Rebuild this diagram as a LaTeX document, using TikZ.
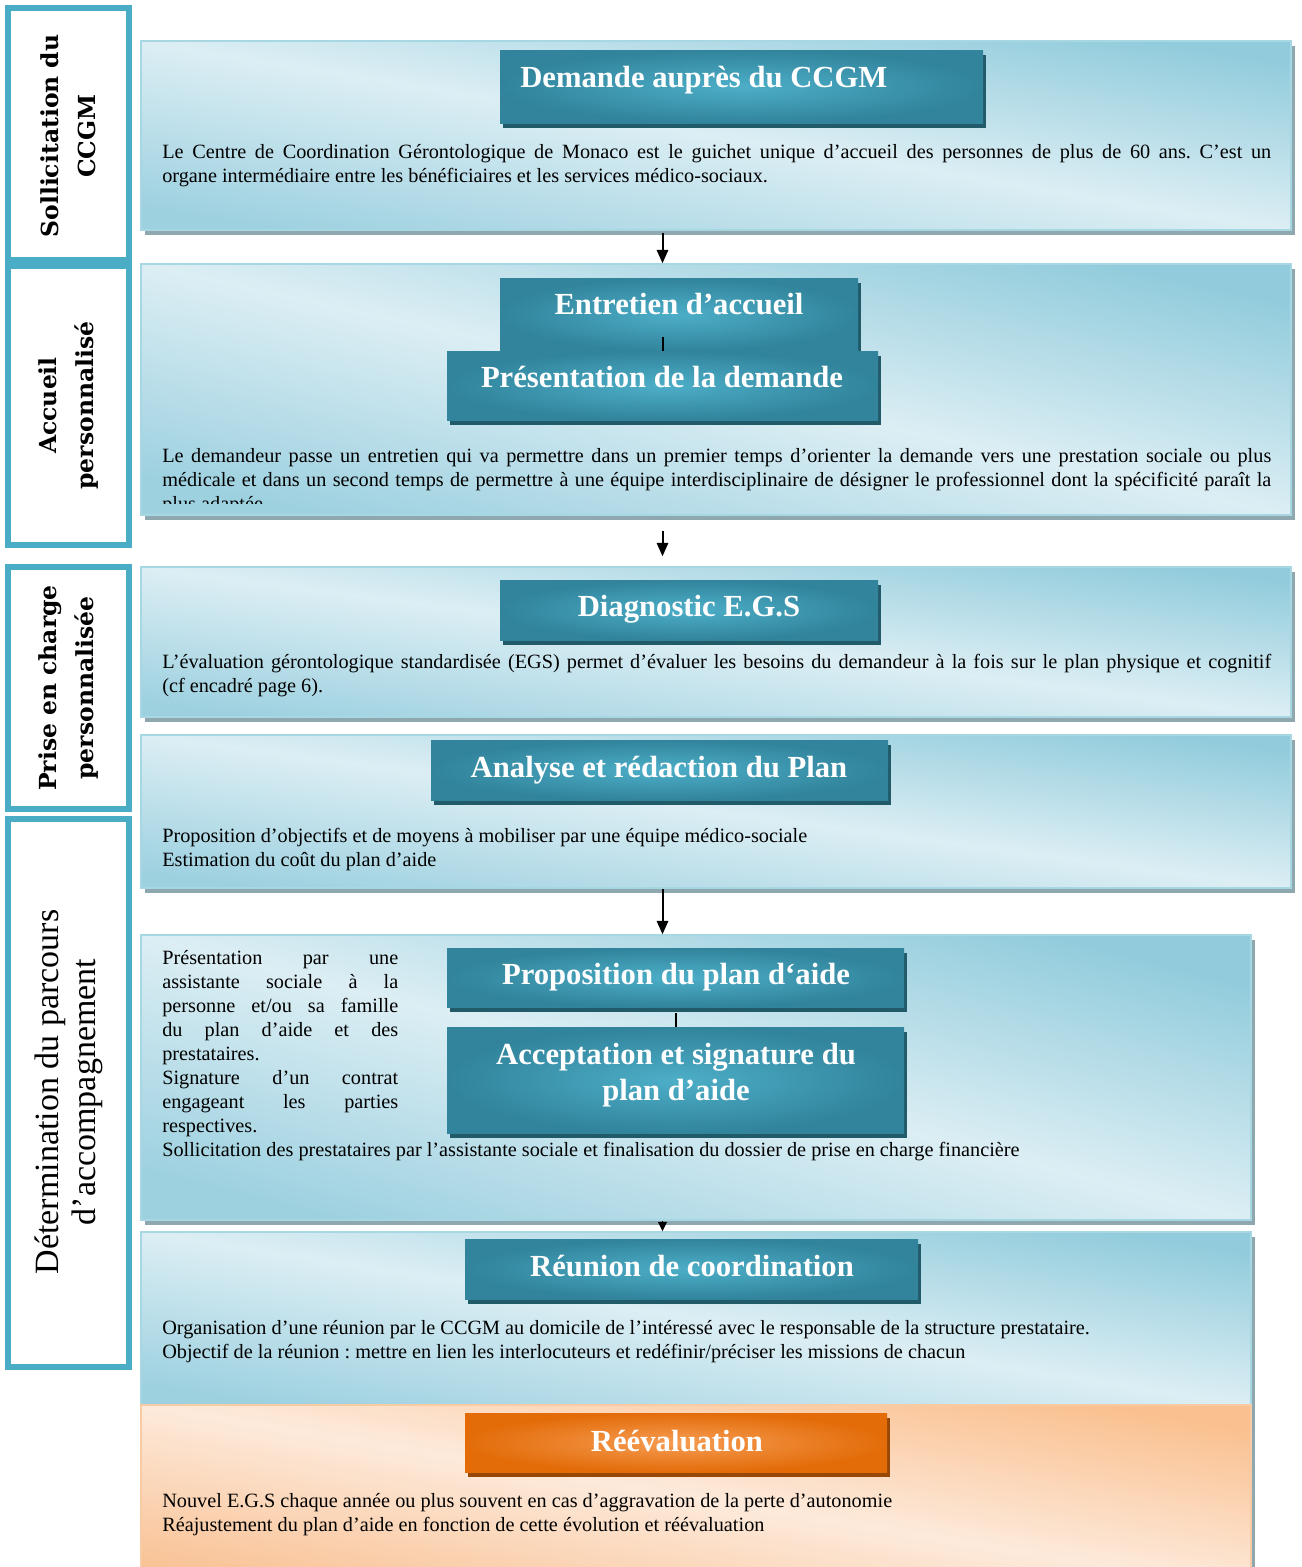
\documentclass[tikz,border=0pt]{standalone}
\usepackage{fontspec}
\setmainfont{Liberation Serif}
\newfontfamily\sidefont{DejaVu Serif}
\frenchspacing
\usetikzlibrary{arrows.meta,shadows,calc}
\definecolor{sideblue}{HTML}{4BACC6}
\definecolor{plight}{HTML}{DCEEF4}
\definecolor{pdark}{HTML}{92CCDC}
\definecolor{pdark2}{HTML}{9ED1E0}
\definecolor{pedge}{HTML}{A8D7E4}
\definecolor{pshadow}{HTML}{8FA8B0}
\definecolor{tdark}{HTML}{31849B}
\definecolor{tlight}{HTML}{4DAEC8}
\definecolor{tshadow}{HTML}{215A68}
\definecolor{olight}{HTML}{FDEADB}
\definecolor{odark}{HTML}{FAC08F}
\definecolor{odark2}{HTML}{F9C295}
\definecolor{oedge}{HTML}{F9CBA5}
\definecolor{otdark}{HTML}{E36C09}
\definecolor{otlight}{HTML}{F69C52}
\definecolor{otshadow}{HTML}{984806}
\newcommand\mkbox[6]{\node[#1,minimum width={(#5-#3)*0.75pt},minimum height={(#6-#4)*0.75pt}] (#2) at ({(#3+#5)/2},{(#4+#6)/2}) {};}
\newcommand\jl[2]{\hbox to #1{#2}}
\newcommand\nl[1]{\hbox{#1}}
\begin{document}
\begin{tikzpicture}[x=0.75pt,y=-0.75pt,
  sidebox/.style={rectangle,inner sep=0,draw=sideblue,line width=4.5pt,fill=white},
  sidelab/.style={rotate=90,align=center,inner sep=0,font=\sidefont\bfseries\fontsize{17.6}{27.75}\selectfont},
  sidelabr/.style={rotate=90,align=center,inner sep=0,font=\fontsize{25.5}{27.75}\selectfont},
  panel/.style={rectangle,inner sep=0,draw=pedge,line width=1.1pt,
    drop shadow={shadow xshift=3pt,shadow yshift=-3.75pt,fill=pshadow,opacity=1},
    top color=pdark,bottom color=pdark2,middle color=plight},
  opanel/.style={rectangle,inner sep=0,draw=oedge,line width=1.1pt,
    drop shadow={shadow xshift=3pt,shadow yshift=-3.75pt,fill=pshadow,opacity=1},
    top color=odark,bottom color=odark2,middle color=olight},
  tbox/.style={rectangle,inner sep=0,inner color=tlight,outer color=tdark,
    drop shadow={shadow xshift=2.6pt,shadow yshift=-4pt,fill=tshadow,opacity=1}},
  obox/.style={rectangle,inner sep=0,inner color=otlight,outer color=otdark,
    drop shadow={shadow xshift=2.6pt,shadow yshift=-4pt,fill=otshadow,opacity=1}},
  ttext/.style={inner sep=0,anchor=base,text=white,font=\bfseries\fontsize{23}{28}\selectfont},
  body/.style={inner sep=0,anchor=base west,font=\fontsize{15.2}{18}\selectfont},
  arr/.style={line width=1.5pt,-{Triangle[length=10pt,width=8.5pt]}},
  arrs/.style={line width=1.2pt,-{Triangle[length=7pt,width=6.5pt]}},
  link/.style={line width=1.5pt}]
\useasboundingbox (0,0) rectangle (1302,1567);
\clip (0,0) rectangle (1302,1567);
% side boxes
\mkbox{sidebox}{sa}{8}{8}{129}{260}
\mkbox{sidebox}{sb}{8}{266}{129}{545}
\mkbox{sidebox}{sc}{8}{567}{129}{809}
\mkbox{sidebox}{sd}{8}{819}{129}{1367}
\node[sidelab] (sal) at ($(sa.center)+(0,2)$) {Sollicitation du\\CCGM};
\node[sidelab] (sbl) at (sb.center) {Accueil\\personnalisé};
\node[sidelab] (scl) at ($(sc.center)+(0,0)$) {Prise en charge\\personnalisée};
\node[sidelabr] (sdl) at ($(sd.center)+(0,-1)$) {Détermination du parcours\\d’accompagnement};
% panels
\mkbox{panel,shading angle=-9.3}{p1}{141}{41}{1291}{230}
\mkbox{panel,shading angle=-12.3}{p2}{141}{264}{1291}{515}
\mkbox{panel,shading angle=-7.4}{p3}{141}{567}{1291}{717}
\mkbox{panel,shading angle=-7.6}{p4}{141}{735}{1291}{888}
\mkbox{panel,shading angle=-14.4}{p5}{141}{935}{1251}{1220}
\mkbox{panel,shading angle=-8.9}{p6}{141}{1232}{1251}{1405}
\mkbox{opanel,shading angle=-9.5}{p7}{141}{1405}{1251}{1590}
% title boxes
\mkbox{tbox}{t1}{500}{50}{983}{123}
\mkbox{tbox}{t2}{500}{278}{858}{351}
\mkbox{tbox}{t3}{447}{351}{878}{420}
\mkbox{tbox}{t4}{500}{580}{878}{640}
\mkbox{tbox}{t5}{431}{740}{888}{800}
\mkbox{tbox}{t6}{447}{948}{904}{1007}
\mkbox{tbox}{t7}{447}{1027}{904}{1133}
\mkbox{tbox}{t8}{465}{1239}{918}{1299}
\mkbox{obox}{t9}{465}{1413}{887}{1472}
% title texts
\node[ttext,anchor=base west] (t1l) at (520,87) {Demande auprès du CCGM};
\node[ttext] (t2l) at (679,314) {Entretien d’accueil};
\node[ttext] (t3l) at (662,387) {Présentation de la demande};
\node[ttext] (t4l) at (689,616) {Diagnostic E.G.S};
\node[ttext] (t5l) at (659,777) {Analyse et rédaction du Plan};
\node[ttext] (t6l) at (676,984) {Proposition du plan d‘aide};
\node[ttext] (t7l) at (676,1064) {Acceptation et signature du};
\node[ttext] (t7m) at (676,1100) {plan d’aide};
\node[ttext] (t8l) at (692,1276) {Réunion de coordination};
\node[ttext] (t9l) at (677,1451) {Réévaluation};
% connectors inside
\draw[link] ($(t3.north)+(0,-14)$) -- (t3.north);
\draw[link] ($(t6.south -| t7.north)+(0,6)$) -- (t7.north);
% arrows
\draw[arr] ($(p1.south -| t3.north)+(0,2)$) -- (p2.north -| t3.north);
\draw[arr] ($(p2.south -| t3.north)+(0,15)$) -- ($(p3.north -| t3.north)+(0,-10)$);
\draw[arr] (p4.south -| t3.north) -- (p5.north -| t3.north);
\draw[arrs] (p5.south -| t3.north) -- (p6.north -| t3.north);
% body texts
\node[body] (p1t) at (162,158) {\vtop{%
\jl{831.75pt}{Le Centre de Coordination Gérontologique de Monaco est le guichet unique d’accueil des personnes de plus de 60 ans. C’est un}
\nl{organe intermédiaire entre les bénéficiaires et les services médico-sociaux.}}};
\begin{scope}
\clip (141,264) rectangle (1291,503);
\node[body] (p2t) at (162,462) {\vtop{%
\jl{831.75pt}{Le demandeur passe un entretien qui va permettre dans un premier temps d’orienter la demande vers une prestation sociale ou plus}
\jl{831.75pt}{médicale et dans un second temps de permettre à une équipe interdisciplinaire de désigner le professionnel dont la spécificité paraît la}
\nl{plus adaptée.}}};
\end{scope}
\node[body] (p3t) at (162,668) {\vtop{%
\jl{831.75pt}{L’évaluation gérontologique standardisée (EGS) permet d’évaluer les besoins du demandeur à la fois sur le plan physique et cognitif}
\nl{(cf encadré page 6).}}};
\node[body] (p4t) at (162,842) {\vtop{%
\nl{Proposition d’objectifs et de moyens à mobiliser par une équipe médico-sociale}
\nl{Estimation du coût du plan d’aide}}};
\node[body] (p5t) at (162,964) {\vtop{%
\jl{177pt}{Présentation par une}
\jl{177pt}{assistante sociale à la}
\jl{177pt}{personne et/ou sa famille}
\jl{177pt}{du plan d’aide et des}
\nl{prestataires.}
\jl{177pt}{Signature d’un contrat}
\jl{177pt}{engageant les parties}
\nl{respectives.}
\nl{Sollicitation des prestataires par l’assistante sociale et finalisation du dossier de prise en charge financière}}};
\node[body] (p6t) at (162,1334) {\vtop{%
\nl{Organisation d’une réunion par le CCGM au domicile de l’intéressé avec le responsable de la structure prestataire.}
\nl{Objectif de la réunion : mettre en lien les interlocuteurs et redéfinir/préciser les missions de chacun}}};
\node[body] (p7t) at (162,1507) {\vtop{%
\nl{Nouvel E.G.S chaque année ou plus souvent en cas d’aggravation de la perte d’autonomie}
\nl{Réajustement du plan d’aide en fonction de cette évolution et réévaluation}}};
\end{tikzpicture}
\end{document}
